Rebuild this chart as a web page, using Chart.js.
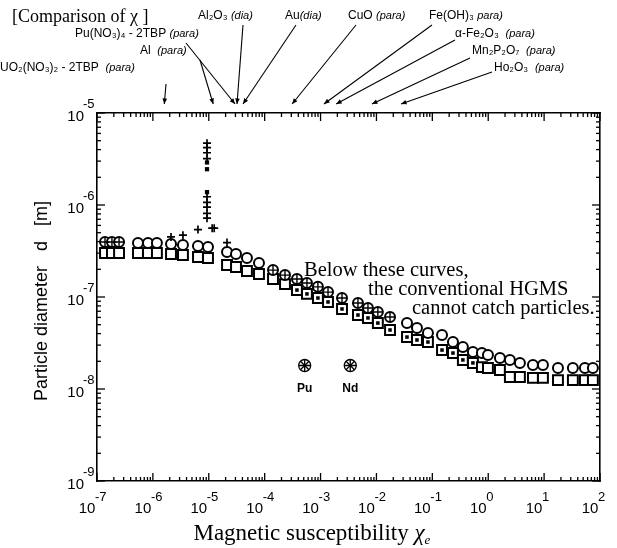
<!DOCTYPE html>
<html><head><meta charset="utf-8">
<script src="https://cdn.jsdelivr.net/npm/chart.js@4.4.1/dist/chart.umd.min.js"></script>
<style>html,body{margin:0;padding:0;background:#fff}#wrap{width:617px;height:548px;position:relative}</style>
</head><body><div id="wrap"><canvas id="c" width="617" height="548"></canvas></div>
<script>
// ---------- data ----------
const chiCurve = [1.39e-7,1.85e-7,2.48e-7,5.41e-7,8.17e-7,1.18e-6,2.11e-6,3.45e-6,6.41e-6,9.68e-6,2.12e-5,3.07e-5,4.82e-5,7.91e-5,1.41e-4,2.31e-4,3.78e-4,5.71e-4,8.97e-4,1.36e-3,2.42e-3,4.67e-3,7.05e-3,1.06e-2,1.75e-2,3.52e-2,5.31e-2,8.34e-2,0.149,0.234,0.352,0.532,0.771,0.989,1.62,2.44,3.69,6.31,9.53,17.7,32.7,53.7,74.6];
const dCircle = [3.96e-7,3.96e-7,3.96e-7,3.87e-7,3.87e-7,3.87e-7,3.77e-7,3.67e-7,3.58e-7,3.49e-7,3.08e-7,2.93e-7,2.65e-7,2.34e-7,1.96e-7,1.73e-7,1.57e-7,1.42e-7,1.29e-7,1.13e-7,9.75e-8,8.61e-8,7.59e-8,6.87e-8,6.07e-8,5.21e-8,4.60e-8,4.06e-8,3.86e-8,3.24e-8,2.86e-8,2.52e-8,2.46e-8,2.34e-8,2.17e-8,2.07e-8,1.92e-8,1.82e-8,1.82e-8,1.69e-8,1.69e-8,1.69e-8,1.69e-8];
const dSquare = [3.01e-7,3.01e-7,3.01e-7,3.01e-7,3.01e-7,3.01e-7,2.93e-7,2.86e-7,2.72e-7,2.65e-7,2.23e-7,2.12e-7,1.92e-7,1.78e-7,1.57e-7,1.38e-7,1.19e-7,1.08e-7,9.75e-8,8.83e-8,7.41e-8,6.37e-8,5.92e-8,5.21e-8,4.38e-8,3.67e-8,3.41e-8,3.24e-8,2.65e-8,2.46e-8,2.07e-8,1.92e-8,1.73e-8,1.69e-8,1.61e-8,1.35e-8,1.35e-8,1.32e-8,1.32e-8,1.25e-8,1.25e-8,1.25e-8,1.25e-8];
const crossedCircleIdx = [0,1,2,14,15,16,17,18,19,20,21,22,23,24];
const dottedSquareIdx = [16,17,18,19,20,21,22,23,24,25,26,27,28,29,30,31];
const chiSpike = 9.3e-6;
const dSpikePlus = [4.7e-6,4.2e-6,3.7e-6,3.2e-6,1.23e-6,1.07e-6,9.5e-7,8.1e-7,7.2e-7];
const dSpikeBox = [2.9e-6,2.45e-6,1.38e-6];
const chiPlusExtra = [2.11e-6,3.45e-6,6.41e-6,1.15e-5,1.25e-5,2.12e-5];
const dPlusExtra = [4.5e-7,4.7e-7,5.4e-7,5.6e-7,5.6e-7,3.9e-7];
const actinideNames = ['Pu','Nd'];
const chiActinide = [5.2e-4,3.4e-3];
const dActinide = [1.8e-8,1.8e-8];
const compoundNames = ['UO\u2082(NO\u2083)\u2082 - 2TBP','Al','Pu(NO\u2083)\u2084 - 2TBP','Al\u2082O\u2083','Au','CuO','Fe(OH)\u2083','\u03b1-Fe\u2082O\u2083','Mn\u2082P\u2082O\u2087','Ho\u2082O\u2083'];
const compoundType = ['(para)','(para)','(para)','(dia)','(dia)','(para)','para)','(para)','(para)','(para)'];
const compoundChi = [1.6e-6,1.2e-5,2.95e-5,3.2e-5,4.1e-5,3.1e-4,1.15e-3,1.9e-3,8.3e-3,2.75e-2];
const xDecades = [-7,-6,-5,-4,-3,-2,-1,0,1,2];
const yDecades = [-9,-8,-7,-6,-5];
const noteLines = ['Below these curves,','the conventional HGMS','cannot catch particles.'];

// ---------- layout (positions / styles only) ----------
const labelPos = [
  {x:0,  y:68, gap:'  ', sx:166, sy:84},
  {x:140,y:51, gap:'  ', sx:200, sy:60},
  {x:75, y:34, gap:' ',  sx:186, sy:43},
  {x:198,y:16, gap:' ',  sx:243, sy:25},
  {x:285,y:16, gap:'',   sx:296, sy:25},
  {x:348,y:16, gap:' ',  sx:356, sy:25},
  {x:429,y:16, gap:' ',  sx:432, sy:25},
  {x:455,y:34, gap:'  ', sx:455, sy:40},
  {x:472,y:51, gap:'  ', sx:470, sy:58},
  {x:494,y:68, gap:'  ', sx:492, sy:72}
];
const notePos = [{x:304,y:271},{x:368,y:290},{x:412,y:309}];
const SANS = '"Liberation Sans", Arial, sans-serif';
const SERIF = '"Liberation Serif", "Times New Roman", serif';

const pts = (xs, ys) => xs.map((v,i)=>({x:v,y:ys[i]}));
const baseDs = {showLine:false, borderColor:'#000', pointHoverRadius:0};

const datasets = [
  Object.assign({}, baseDs, {label:'upper', data:pts(chiCurve,dCircle), pointStyle:'circle', pointRadius:5, backgroundColor:'#fff', pointBorderWidth:2, order:10}),
  Object.assign({}, baseDs, {label:'lower', data:pts(chiCurve,dSquare), pointStyle:'rect', pointRadius:7, backgroundColor:'#fff', pointBorderWidth:2, order:11}),
  Object.assign({}, baseDs, {label:'crossed', data:crossedCircleIdx.map(i=>({x:chiCurve[i],y:dCircle[i]})), pointStyle:'cross', pointRadius:4.5, pointBorderWidth:1.4, order:2}),
  Object.assign({}, baseDs, {label:'dotted', data:dottedSquareIdx.map(i=>({x:chiCurve[i],y:dSquare[i]})), pointStyle:'rect', pointRadius:2.5, backgroundColor:'#000', pointBorderWidth:0, order:2}),
  Object.assign({}, baseDs, {label:'spikePlus', data:dSpikePlus.map(v=>({x:chiSpike,y:v})), pointStyle:'cross', pointRadius:4, pointBorderWidth:1.7, order:1}),
  Object.assign({}, baseDs, {label:'spikeBox', data:dSpikeBox.map(v=>({x:chiSpike,y:v})), pointStyle:'rect', pointRadius:3, backgroundColor:'#000', pointBorderWidth:0, order:1}),
  Object.assign({}, baseDs, {label:'plusExtra', data:pts(chiPlusExtra,dPlusExtra), pointStyle:'cross', pointRadius:4, pointBorderWidth:1.7, order:1}),
  Object.assign({}, baseDs, {label:'actA', data:pts(chiActinide,dActinide), pointStyle:'circle', pointRadius:6, backgroundColor:'#fff', pointBorderWidth:1.3, order:5}),
  Object.assign({}, baseDs, {label:'actB', data:pts(chiActinide,dActinide), pointStyle:'crossRot', pointRadius:6, pointBorderWidth:1.3, order:4}),
  Object.assign({}, baseDs, {label:'actC', data:pts(chiActinide,dActinide), pointStyle:'cross', pointRadius:6, pointBorderWidth:1.3, order:4})
];

function line(ctx,x1,y1,x2,y2){ctx.beginPath();ctx.moveTo(x1,y1);ctx.lineTo(x2,y2);ctx.stroke();}

const decor = {
  id:'decor',
  afterDraw(chart){
    const {ctx, chartArea:a, scales} = chart;
    const xs = scales.x, ys = scales.y;
    ctx.save();
    ctx.strokeStyle='#000'; ctx.fillStyle='#000'; ctx.lineWidth=1.3;
    for (let e=-7;e<=2;e++) for (let m=1;m<=9;m++){
      const v=m*Math.pow(10,e); if (e===2 && m>1) break;
      const px=xs.getPixelForValue(v); const L=m===1?8:4;
      line(ctx,px,a.bottom,px,a.bottom-L); line(ctx,px,a.top,px,a.top+L);
    }
    for (let e=-9;e<=-5;e++) for (let m=1;m<=9;m++){
      const v=m*Math.pow(10,e); if (e===-5 && m>1) break;
      const py=ys.getPixelForValue(v); const L=m===1?8:4;
      line(ctx,a.left,py,a.left+L,py); line(ctx,a.right,py,a.right-L,py);
    }
    ctx.textBaseline='middle';
    xDecades.forEach(e=>{
      const px=xs.getPixelForValue(Math.pow(10,e));
      ctx.font='15px '+SANS; ctx.textAlign='center';
      ctx.fillText('10',px-10,a.bottom+28);
      ctx.font='13px '+SANS; ctx.textAlign='left';
      ctx.fillText(e<0?'-'+(-e):String(e),px-2,a.bottom+16);
    });
    yDecades.forEach(e=>{
      const py=ys.getPixelForValue(Math.pow(10,e));
      ctx.font='15px '+SANS; ctx.textAlign='right';
      ctx.fillText('10',a.left-13,py+4);
      ctx.font='13px '+SANS; ctx.textAlign='left';
      ctx.fillText('-'+(-e),a.left-14,py-9);
    });
    ctx.save();
    ctx.translate(42,(a.top+a.bottom)/2+4);
    ctx.rotate(-Math.PI/2);
    ctx.font='18px '+SANS; ctx.textAlign='center';
    ctx.fillText('Particle diameter   d   [m]',0,0);
    ctx.restore();
    const TF=23;
    ctx.font=TF+'px '+SERIF; ctx.textAlign='left';
    const t1='Magnetic susceptibility ';
    const w1=ctx.measureText(t1).width;
    ctx.font='italic '+TF+'px '+SERIF; const w2=ctx.measureText('\u03c7').width;
    const cx=312, x0=cx-(w1+w2+6)/2, ty=534;
    ctx.font=TF+'px '+SERIF; ctx.fillText(t1,x0,ty);
    ctx.font='italic '+TF+'px '+SERIF; ctx.fillText('\u03c7',x0+w1,ty);
    ctx.font='italic 13px '+SERIF; ctx.fillText('e',x0+w1+w2,ty+7);
    ctx.font='20.5px '+SERIF;
    noteLines.forEach((s,i)=>ctx.fillText(s,notePos[i].x,notePos[i].y));
    ctx.font='bold 12px '+SANS; ctx.textAlign='center';
    actinideNames.forEach((n,i)=>{
      ctx.fillText(n,xs.getPixelForValue(chiActinide[i]),ys.getPixelForValue(dActinide[i])+23);
    });
    ctx.textAlign='left';
    ctx.font='18px '+SERIF;
    ctx.fillText('[Comparison of \u03c7 ]',12,17);
    compoundNames.forEach((n,i)=>{
      const p=labelPos[i];
      ctx.font='12px '+SANS;
      const w=ctx.measureText(n+p.gap).width;
      ctx.fillText(n+p.gap,p.x,p.y);
      ctx.font='italic 11px '+SANS;
      ctx.fillText(compoundType[i],p.x+w,p.y);
      const tx=scales.x2.getPixelForValue(compoundChi[i]);
      const ty2=a.top-9;
      ctx.lineWidth=1.1;
      line(ctx,p.sx,p.sy,tx,ty2);
      const ang=Math.atan2(ty2-p.sy,tx-p.sx);
      ctx.beginPath();
      ctx.moveTo(tx,ty2);
      ctx.lineTo(tx-6*Math.cos(ang-0.4),ty2-6*Math.sin(ang-0.4));
      ctx.lineTo(tx-6*Math.cos(ang+0.4),ty2-6*Math.sin(ang+0.4));
      ctx.closePath(); ctx.fill();
    });
    ctx.restore();
  }
};

const logAxis = (pos,min,max,size,horiz)=>({
  type:'logarithmic', position:pos, min:min, max:max,
  ticks:{display:false}, grid:{display:false, drawTicks:false},
  border:{display:true,color:'#000',width:1.6},
  afterFit:s=>{ if(horiz) s.height=size; else s.width=size; }
});

new Chart(document.getElementById('c'),{
  type:'scatter',
  data:{datasets},
  options:{
    responsive:false, animation:false, devicePixelRatio:1,
    layout:{padding:0},
    plugins:{legend:{display:false},tooltip:{enabled:false}},
    scales:{
      x: logAxis('bottom',1e-7,100,67,true),
      x2: logAxis('top',1e-7,100,113,true),
      y: logAxis('left',1e-9,1e-5,97,false),
      y2: logAxis('right',1e-9,1e-5,17,false)
    }
  },
  plugins:[decor]
});
</script>
</body></html>
